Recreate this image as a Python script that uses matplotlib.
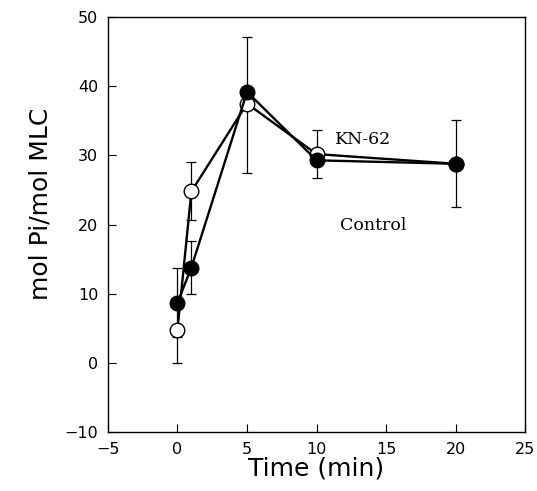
import matplotlib.pyplot as plt

# time points (min)
time = [0, 1, 5, 10, 20]

# Control (filled circles)
control = [8.7, 13.8, 39.2, 29.3, 28.8]
control_lo = [5.0, 3.9, 0.0, 2.6, 6.3]
control_hi = [5.0, 3.9, 8.0, 0.0, 6.3]

# KN-62 (open circles)
kn62 = [4.8, 24.8, 37.5, 30.2, 28.8]
kn62_lo = [4.8, 4.2, 10.0, 0.0, 0.0]
kn62_hi = [0.0, 4.3, 0.0, 3.5, 0.0]

fig = plt.figure(figsize=(5.37, 4.91), dpi=100)
ax = fig.add_axes([0.201, 0.120, 0.777, 0.845])

# error bars first, markers cover the zero-length side
ax.errorbar(time, kn62, yerr=[kn62_lo, kn62_hi], fmt='none', ecolor='black',
            elinewidth=0.9, capsize=3.5, capthick=0.9, zorder=1)
ax.errorbar(time, control, yerr=[control_lo, control_hi], fmt='none', ecolor='black',
            elinewidth=0.9, capsize=3.5, capthick=0.9, zorder=1)

ax.plot(time, kn62, color='black', linewidth=1.7, marker='o', markersize=10.5,
        markerfacecolor='white', markeredgecolor='black', markeredgewidth=1.0, zorder=3)
ax.plot(time, control, color='black', linewidth=1.7, marker='o', markersize=10.5,
        markerfacecolor='black', markeredgecolor='black', zorder=4)

ax.text(11.3, 31.7, 'KN-62', family='DejaVu Serif', fontsize=12.5)
ax.text(11.7, 19.2, 'Control', family='DejaVu Serif', fontsize=12.5)

ax.set_xlim(-5, 25)
ax.set_ylim(-10, 50)
ax.set_xticks([-5, 0, 5, 10, 15, 20, 25])
ax.set_yticks([-10, 0, 10, 20, 30, 40, 50])
ax.set_xticklabels(['\u22125', '0', '5', '10', '15', '20', '25'])
ax.set_yticklabels(['\u221210', '0', '10', '20', '30', '40', '50'])

ax.tick_params(direction='in', length=6, width=0.8, labelsize=11.5, pad=7)
for s in ax.spines.values():
    s.set_linewidth(1.0)

ax.set_xlabel('Time (min)', fontsize=18, labelpad=0)
ax.set_ylabel('mol Pi/mol MLC', fontsize=18)
ax.yaxis.set_label_coords(-0.133, 0.55)

fig.savefig('out.png', dpi=100)
